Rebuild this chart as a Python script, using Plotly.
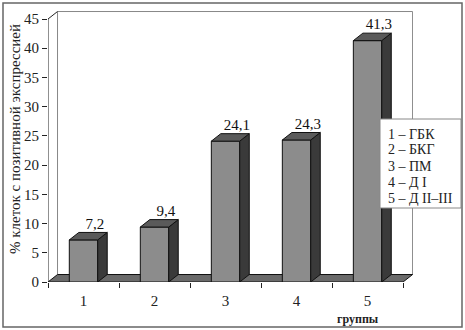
import plotly.graph_objects as go

categories = ["1", "2", "3", "4", "5"]
values = [7.2, 9.4, 24.1, 24.3, 41.3]
value_labels = ["7,2", "9,4", "24,1", "24,3", "41,3"]
y_ticks = [0, 5, 10, 15, 20, 25, 30, 35, 40, 45]
legend_lines = ["1 – ГБК", "2 – БКГ", "3 – ПМ", "4 – Д I", "5 – Д II–III"]
y_title = "% клеток с позитивной экспрессией"
x_title = "группы"

FONT = "Liberation Serif, Times New Roman, serif"
DX = 0.134   # depth offset in x units
DY = 1.28    # depth offset in y units
W = 0.4      # bar width
YMAX = 45
XR = [-0.5, 4.64]
YR = [0, 46.37]

# pixel layout helpers (plot area: x 48..413, y 11..282)
L, R, T, B = 48, 413, 11, 282
def px(xp):
    return (xp - L) / (R - L)
def py(yp):
    return (B - yp) / (B - T)

xs = list(range(len(categories)))

fig = go.Figure()

# front faces
fig.add_trace(go.Bar(x=xs, y=values, width=W, marker=dict(color="#8c8c8c", line=dict(color="#111", width=1)),
                     hoverinfo="skip", showlegend=False))

# side and top faces
for x, v in zip(xs, values):
    r = x + W / 2
    l = x - W / 2
    fig.add_trace(go.Scatter(x=[r, r + DX, r + DX, r, r], y=[0, DY, v + DY, v, 0], mode="lines",
                             fill="toself", fillcolor="#3a3a3a", line=dict(color="#111", width=1),
                             hoverinfo="skip", showlegend=False))
    fig.add_trace(go.Scatter(x=[l, l + DX, r + DX, r, l], y=[v, v + DY, v + DY, v, v], mode="lines",
                             fill="toself", fillcolor="#5a5a5a", line=dict(color="#111", width=1),
                             hoverinfo="skip", showlegend=False))

# value labels
fig.add_trace(go.Scatter(x=[x + DX * 1.2 for x in xs], y=[v + DY for v in values], mode="text",
                         text=value_labels, textposition="top center",
                         textfont=dict(family=FONT, size=15, color="#111"),
                         hoverinfo="skip", showlegend=False))

x0, x1 = -0.5, len(categories) - 0.5
shapes = [
    # back wall
    dict(type="path", path=f"M{x0+DX},{DY} L{x0+DX},{YMAX+DY} L{x1+DX},{YMAX+DY} L{x1+DX},{DY} Z",
         xref="x", yref="y", fillcolor="white", line=dict(color="#888", width=1), layer="below"),
    # floor
    dict(type="path", path=f"M{x0},0 L{x1},0 L{x1+DX},{DY} L{x0+DX},{DY} Z",
         xref="x", yref="y", fillcolor="#6a6a6a", line=dict(color="#111", width=1), layer="below"),
    # side wall edge / y axis line
    dict(type="path", path=f"M{x0},0 L{x0},{YMAX} L{x0+DX},{YMAX+DY}",
         xref="x", yref="y", line=dict(color="#222", width=1), layer="below"),
    # outer frame
    dict(type="rect", xref="paper", yref="paper", x0=px(3), x1=px(462), y0=py(327), y1=py(3),
         line=dict(color="#666", width=1.5), fillcolor="rgba(0,0,0,0)"),
    # legend box
    dict(type="rect", xref="paper", yref="paper", x0=px(380), x1=px(461), y0=py(208), y1=py(119),
         line=dict(color="#888", width=1), fillcolor="white", layer="above"),
]

annotations = []
for i, line in enumerate(legend_lines):
    annotations.append(dict(text=line, xref="paper", yref="paper", x=px(386), y=py(134 + 16 * i),
                            xanchor="left", yanchor="middle", showarrow=False,
                            font=dict(family=FONT, size=14, color="#222")))
annotations += [
    dict(text=y_title, xref="paper", yref="paper", x=px(15), y=py(139),
         textangle=-90, showarrow=False, xanchor="center", yanchor="middle",
         font=dict(family=FONT, size=15, color="#222")),
    dict(text=f"<b>{x_title}</b>", xref="paper", yref="paper", x=px(358), y=py(319),
         showarrow=False, xanchor="center", yanchor="middle",
         font=dict(family=FONT, size=12, color="#222")),
]

fig.update_layout(
    width=465, height=330,
    margin=dict(l=L, r=465 - R, t=T, b=330 - B),
    paper_bgcolor="white", plot_bgcolor="white",
    shapes=shapes, annotations=annotations,
    bargap=0.6,
    xaxis=dict(range=XR, tickvals=xs, ticktext=categories, ticks="", showgrid=False, zeroline=False,
               showline=False, ticklabelstandoff=8,
               tickfont=dict(family=FONT, size=15, color="#222"),
               minor=dict(ticks="outside", tick0=-0.5, dtick=1, ticklen=5, tickcolor="#222", showgrid=False)),
    yaxis=dict(range=YR, tickvals=y_ticks, ticks="outside", ticklen=5, tickcolor="#222",
               showgrid=False, zeroline=False, showline=False,
               tickfont=dict(family=FONT, size=15, color="#222")),
)

fig.write_html("out.html", post_script="document.body.style.margin='0px';",
               config={"displayModeBar": False})
